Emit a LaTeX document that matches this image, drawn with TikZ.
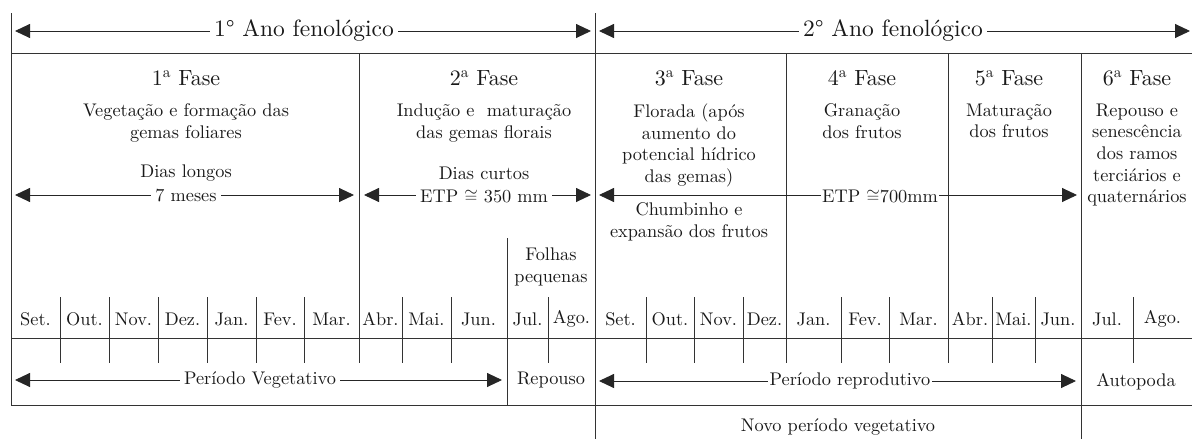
\documentclass[tikz,border=0pt]{standalone}
\usepackage{fontspec}
\setmainfont{lmroman10}[Extension=.otf,UprightFont=*-regular,BoldFont=*-bold,ItalicFont=*-italic,BoldItalicFont=*-bolditalic]
\usetikzlibrary{arrows.meta}
\newcommand{\ord}{\textsuperscript{a}}
\begin{document}
\begin{tikzpicture}[x=1pt,y=-1pt,
  ln/.style={line width=0.9pt,draw=black!80},
  arr/.style={line width=0.9pt,draw=black!85,{Triangle[length=15pt,width=14pt]}-{Triangle[length=15pt,width=14pt]}},
  txt/.style={font=\fontsize{18.3}{21.6}\selectfont,align=center,inner sep=0.5pt,text=black!90},
  hd/.style={font=\fontsize{22}{26}\selectfont,inner sep=1pt,text=black!90},
  yr/.style={font=\fontsize{23.5}{27}\selectfont,inner sep=1pt,text=black!90},
  onarr/.style={fill=white,inner xsep=4pt,inner ysep=0pt}]
\fill[white] (0,0) rectangle (1192,439);
\useasboundingbox (0,0) rectangle (1192,439);

% ---- grid lines ----
\draw[ln] (11,13) -- (11,405);
\draw[ln] (595,13) -- (595,439);
\draw[ln] (11,53) -- (1192,53);
\draw[ln] (11,338) -- (1192,338);
\draw[ln] (11,405) -- (1192,405);
\draw[ln] (359,53) -- (359,363);
\draw[ln] (786,53) -- (786,363);
\draw[ln] (948,53) -- (948,363);
\draw[ln] (1081,53) -- (1081,439);
\draw[ln] (507,238) -- (507,405);
\foreach \x in {60,109,158,207,256,304,402,451,548,646,694,743,841,889,992,1035,1133}
  \draw[ln] (\x,297) -- (\x,363);

% ---- year headers ----
\coordinate (y1l) at (15,31);  \coordinate (y1r) at (591,31);
\coordinate (y2l) at (599,31); \coordinate (y2r) at (1190,31);
\draw[arr] (y1l) -- (y1r);
\draw[arr] (y2l) -- (y2r);
\node[yr,onarr] (ano1) at (304,31) {1° Ano fenológico};
\node[yr,onarr] (ano2) at (893,31) {2° Ano fenológico};

% ---- phases ----
\node[hd] (f1) at (186,78) {1\ord{} Fase};
\node[hd] (f2) at (484,78) {2\ord{} Fase};
\node[hd] (f3) at (689,78) {3\ord{} Fase};
\node[hd] (f4) at (862,78) {4\ord{} Fase};
\node[hd] (f5) at (1009,78) {5\ord{} Fase};
\node[hd] (f6) at (1137,78) {6\ord{} Fase};

\node[txt,anchor=north] (d1) at (186,103) {Vegetação e formação das\\gemas foliares};
\node[txt,anchor=north] (d2) at (484,103) {Indução e \ maturação\\das gemas florais};
\node[txt,anchor=north] (d3) at (689,103) {Florada (após\\aumento do\\potencial hídrico\\das gemas)};
\node[txt,anchor=north] (d4) at (862,103) {Granação\\dos frutos};
\node[txt,anchor=north] (d5) at (1009,103) {Maturação\\dos frutos};
\node[txt,anchor=north] (d6) at (1137,103) {Repouso e\\senescência\\dos ramos\\terciários e\\quaternários};

\node[txt] (dl) at (186,173) {Dias longos};
\node[txt] (dc) at (484,173) {Dias curtos};

% ---- middle arrows ----
\coordinate (m1l) at (15,195);  \coordinate (m1r) at (354,195);
\coordinate (m2l) at (364,195); \coordinate (m2r) at (591,195);
\coordinate (m3l) at (599,195); \coordinate (m3r) at (1077,195);
\draw[arr] (m1l) -- (m1r);
\draw[arr] (m2l) -- (m2r);
\draw[arr] (m3l) -- (m3r);
\node[txt,onarr] (sete) at (186,196) {7 meses};
\node[txt,onarr] (etp1) at (484,196) {ETP $\cong$ 350 mm};
\node[txt,onarr,inner xsep=1pt] (etp2) at (880,196) {ETP $\cong$700mm};

\node[txt,anchor=north] (chb) at (689,202) {Chumbinho e\\expansão dos frutos};
\node[txt,anchor=north] (folhas) at (551,247) {Folhas\\pequenas};

% ---- months ----
\foreach \m/\x in {Set./35.5,Out./84.5,Nov./133.5,Dez./182.5,Jan./231.5,Fev./280,Mar./331.5,Abr./380.5,Mai./426.5,Jun./478.5,Jul./527.5,Ago./571.5,
  Set./620.5,Out./670,Nov./718.5,Dez./764.5,Jan./813.5,Fev./865,Mar./918.5,Abr./970,Mai./1013.5,Jun./1058,Jul./1107,Ago./1162.5}
  \node[txt] at (\x,319) {\m};

% ---- bottom ----
\coordinate (b1l) at (15,380);  \coordinate (b1r) at (502,380);
\coordinate (b2l) at (599,381); \coordinate (b2r) at (1076,381);
\draw[arr] (b1l) -- (b1r);
\draw[arr] (b2l) -- (b2r);
\node[txt,onarr] (pv) at (260,380) {Período Vegetativo};
\node[txt,onarr,inner xsep=2pt] (pr) at (850,381) {Período reprodutivo};
\node[txt] (rep) at (551,380) {Repouso};
\node[txt] (auto) at (1136,382) {Autopoda};
\node[txt] (novo) at (838,427) {Novo período vegetativo};
\end{tikzpicture}
\end{document}
